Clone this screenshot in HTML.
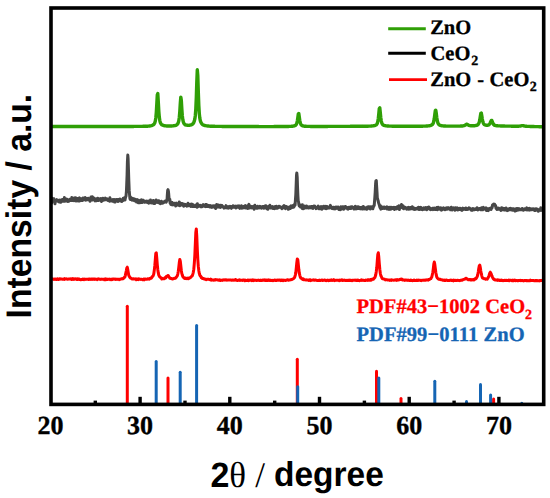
<!DOCTYPE html>
<html><head><meta charset="utf-8"><style>
html,body{margin:0;padding:0;background:#fff;}
svg{display:block;}
text{text-rendering:geometricPrecision;}
.tl{font-family:"Liberation Serif",serif;font-weight:bold;font-size:26px;fill:#000;stroke:#000;stroke-width:0.35px;}
.lg{font-family:"Liberation Serif",serif;font-weight:bold;font-size:20.5px;stroke-width:0.3px;}
.ax{font-family:"Liberation Sans",sans-serif;font-weight:bold;fill:#000;}
.sf{font-family:"Liberation Serif",serif;font-weight:normal;fill:#000;}
</style></head><body>
<svg width="550" height="498" viewBox="0 0 550 498">
<rect x="0" y="0" width="550" height="498" fill="#fff"/>
<line x1="127.3" y1="403.5" x2="127.3" y2="306.2" stroke="#ff0000" stroke-width="3.0" stroke-linecap="round"/>
<line x1="168.0" y1="403.5" x2="168.0" y2="378.0" stroke="#ff0000" stroke-width="3.0" stroke-linecap="round"/>
<line x1="297.3" y1="403.5" x2="297.3" y2="359.3" stroke="#ff0000" stroke-width="3.0" stroke-linecap="round"/>
<line x1="376.5" y1="403.5" x2="376.5" y2="371.3" stroke="#ff0000" stroke-width="3.0" stroke-linecap="round"/>
<line x1="401.0" y1="403.5" x2="401.0" y2="398.6" stroke="#ff0000" stroke-width="3.0" stroke-linecap="round"/>
<line x1="493.6" y1="403.5" x2="493.6" y2="398.9" stroke="#ff0000" stroke-width="3.0" stroke-linecap="round"/>
<line x1="156.2" y1="403.5" x2="156.2" y2="361.6" stroke="#1565b4" stroke-width="3.0" stroke-linecap="round"/>
<line x1="180.2" y1="403.5" x2="180.2" y2="372.2" stroke="#1565b4" stroke-width="3.0" stroke-linecap="round"/>
<line x1="196.6" y1="403.5" x2="196.6" y2="325.4" stroke="#1565b4" stroke-width="3.0" stroke-linecap="round"/>
<line x1="297.7" y1="403.5" x2="297.7" y2="386.8" stroke="#1565b4" stroke-width="3.0" stroke-linecap="round"/>
<line x1="378.8" y1="403.5" x2="378.8" y2="378.1" stroke="#1565b4" stroke-width="3.0" stroke-linecap="round"/>
<line x1="434.8" y1="403.5" x2="434.8" y2="381.3" stroke="#1565b4" stroke-width="3.0" stroke-linecap="round"/>
<line x1="466.5" y1="403.5" x2="466.5" y2="401.4" stroke="#1565b4" stroke-width="3.0" stroke-linecap="round"/>
<line x1="480.5" y1="403.5" x2="480.5" y2="384.5" stroke="#1565b4" stroke-width="3.0" stroke-linecap="round"/>
<line x1="490.6" y1="403.5" x2="490.6" y2="395.0" stroke="#1565b4" stroke-width="3.0" stroke-linecap="round"/>
<line x1="521.8" y1="403.5" x2="521.8" y2="403.3" stroke="#1565b4" stroke-width="3.0" stroke-linecap="round"/>
<g fill="none" stroke-linejoin="round" stroke-linecap="round">
<path d="M51.8 126.5 L52.3 126.5 L52.8 126.5 L53.3 126.5 L53.8 126.5 L54.3 126.5 L54.8 126.5 L55.3 126.5 L55.8 126.5 L56.3 126.5 L56.8 126.5 L57.3 126.5 L57.8 126.5 L58.3 126.5 L58.8 126.5 L59.3 126.5 L59.8 126.5 L60.3 126.5 L60.8 126.5 L61.3 126.5 L61.8 126.5 L62.3 126.5 L62.8 126.5 L63.3 126.5 L63.8 126.5 L64.3 126.5 L64.8 126.5 L65.3 126.5 L65.8 126.5 L66.3 126.5 L66.8 126.5 L67.3 126.5 L67.8 126.5 L68.3 126.5 L68.8 126.5 L69.3 126.5 L69.8 126.5 L70.3 126.5 L70.8 126.5 L71.3 126.5 L71.8 126.5 L72.3 126.5 L72.8 126.5 L73.3 126.5 L73.8 126.5 L74.3 126.5 L74.8 126.5 L75.3 126.5 L75.8 126.5 L76.3 126.5 L76.8 126.5 L77.3 126.5 L77.8 126.5 L78.3 126.5 L78.8 126.5 L79.3 126.5 L79.8 126.5 L80.3 126.5 L80.8 126.5 L81.3 126.5 L81.8 126.5 L82.3 126.5 L82.8 126.5 L83.3 126.5 L83.8 126.5 L84.3 126.5 L84.8 126.5 L85.3 126.5 L85.8 126.5 L86.3 126.5 L86.8 126.5 L87.3 126.5 L87.8 126.5 L88.3 126.5 L88.8 126.5 L89.3 126.5 L89.8 126.5 L90.3 126.5 L90.8 126.5 L91.3 126.5 L91.8 126.5 L92.3 126.5 L92.8 126.5 L93.3 126.5 L93.8 126.5 L94.3 126.5 L94.8 126.5 L95.3 126.5 L95.8 126.5 L96.3 126.5 L96.8 126.5 L97.3 126.5 L97.8 126.5 L98.3 126.5 L98.8 126.5 L99.3 126.5 L99.8 126.5 L100.3 126.5 L100.8 126.5 L101.3 126.5 L101.8 126.5 L102.3 126.5 L102.8 126.5 L103.3 126.5 L103.8 126.5 L104.3 126.5 L104.8 126.5 L105.3 126.5 L105.8 126.5 L106.3 126.5 L106.8 126.5 L107.3 126.5 L107.8 126.5 L108.3 126.5 L108.8 126.5 L109.3 126.5 L109.8 126.5 L110.3 126.5 L110.8 126.5 L111.3 126.5 L111.8 126.5 L112.3 126.5 L112.8 126.5 L113.3 126.5 L113.8 126.5 L114.3 126.5 L114.8 126.5 L115.3 126.5 L115.8 126.5 L116.3 126.5 L116.8 126.5 L117.3 126.5 L117.8 126.5 L118.3 126.5 L118.8 126.5 L119.3 126.5 L119.8 126.5 L120.3 126.5 L120.8 126.5 L121.3 126.5 L121.8 126.5 L122.3 126.5 L122.8 126.5 L123.3 126.5 L123.8 126.5 L124.3 126.5 L124.8 126.5 L125.3 126.5 L125.8 126.5 L126.3 126.5 L126.8 126.5 L127.3 126.5 L127.8 126.5 L128.3 126.5 L128.8 126.5 L129.3 126.5 L129.8 126.5 L130.3 126.5 L130.8 126.5 L131.3 126.5 L131.8 126.5 L132.3 126.5 L132.8 126.5 L133.3 126.5 L133.8 126.4 L134.3 126.4 L134.8 126.4 L135.3 126.4 L135.8 126.4 L136.3 126.4 L136.8 126.4 L137.3 126.4 L137.8 126.4 L138.3 126.4 L138.8 126.4 L139.3 126.4 L139.8 126.4 L140.3 126.4 L140.8 126.4 L141.3 126.4 L141.8 126.4 L142.3 126.4 L142.8 126.3 L143.3 126.3 L143.8 126.3 L144.3 126.3 L144.8 126.3 L145.3 126.3 L145.8 126.3 L146.3 126.2 L146.8 126.2 L147.3 126.2 L147.8 126.2 L148.3 126.1 L148.8 126.1 L149.3 126.0 L149.8 126.0 L150.3 125.9 L150.8 125.8 L151.3 125.7 L151.8 125.5 L152.3 125.4 L152.8 125.1 L153.3 124.8 L153.8 124.4 L154.3 123.7 L154.8 122.8 L155.3 121.1 L155.8 118.0 L156.3 112.6 L156.8 104.0 L157.3 94.8 L157.8 93.6 L158.3 102.0 L158.8 111.1 L159.3 117.1 L159.8 120.6 L160.3 122.5 L160.8 123.5 L161.3 124.2 L161.8 124.7 L162.3 125.0 L162.8 125.2 L163.3 125.4 L163.8 125.6 L164.3 125.7 L164.8 125.8 L165.3 125.8 L165.8 125.9 L166.3 125.9 L166.8 126.0 L167.3 126.0 L167.8 126.0 L168.3 126.0 L168.8 126.0 L169.3 126.0 L169.8 126.0 L170.3 126.0 L170.8 126.0 L171.3 126.0 L171.8 126.0 L172.3 125.9 L172.8 125.9 L173.3 125.8 L173.8 125.8 L174.3 125.7 L174.8 125.6 L175.3 125.5 L175.8 125.3 L176.3 125.1 L176.8 124.8 L177.3 124.3 L177.8 123.7 L178.3 122.6 L178.8 120.8 L179.3 117.4 L179.8 111.6 L180.3 103.4 L180.8 97.1 L181.3 100.2 L181.8 108.5 L182.3 115.4 L182.8 119.6 L183.3 121.9 L183.8 123.2 L184.3 124.0 L184.8 124.4 L185.3 124.8 L185.8 125.0 L186.3 125.1 L186.8 125.2 L187.3 125.3 L187.8 125.3 L188.3 125.4 L188.8 125.3 L189.3 125.3 L189.8 125.2 L190.3 125.1 L190.8 125.0 L191.3 124.8 L191.8 124.6 L192.3 124.3 L192.8 123.9 L193.3 123.3 L193.8 122.5 L194.3 121.2 L194.8 119.2 L195.3 115.7 L195.8 109.1 L196.3 97.9 L196.8 82.0 L197.3 69.8 L197.8 75.7 L198.3 91.9 L198.8 105.3 L199.3 113.6 L199.8 118.1 L200.3 120.6 L200.8 122.1 L201.3 123.1 L201.8 123.8 L202.3 124.3 L202.8 124.7 L203.3 125.0 L203.8 125.2 L204.3 125.4 L204.8 125.5 L205.3 125.6 L205.8 125.7 L206.3 125.8 L206.8 125.9 L207.3 125.9 L207.8 126.0 L208.3 126.0 L208.8 126.1 L209.3 126.1 L209.8 126.2 L210.3 126.2 L210.8 126.2 L211.3 126.2 L211.8 126.3 L212.3 126.3 L212.8 126.3 L213.3 126.3 L213.8 126.3 L214.3 126.3 L214.8 126.3 L215.3 126.4 L215.8 126.4 L216.3 126.4 L216.8 126.4 L217.3 126.4 L217.8 126.4 L218.3 126.4 L218.8 126.4 L219.3 126.4 L219.8 126.4 L220.3 126.4 L220.8 126.4 L221.3 126.4 L221.8 126.4 L222.3 126.5 L222.8 126.5 L223.3 126.5 L223.8 126.5 L224.3 126.5 L224.8 126.5 L225.3 126.5 L225.8 126.5 L226.3 126.5 L226.8 126.5 L227.3 126.5 L227.8 126.5 L228.3 126.5 L228.8 126.5 L229.3 126.5 L229.8 126.5 L230.3 126.5 L230.8 126.5 L231.3 126.5 L231.8 126.5 L232.3 126.5 L232.8 126.5 L233.3 126.5 L233.8 126.5 L234.3 126.5 L234.8 126.5 L235.3 126.5 L235.8 126.5 L236.3 126.5 L236.8 126.5 L237.3 126.5 L237.8 126.5 L238.3 126.5 L238.8 126.5 L239.3 126.5 L239.8 126.5 L240.3 126.5 L240.8 126.5 L241.3 126.5 L241.8 126.5 L242.3 126.5 L242.8 126.5 L243.3 126.5 L243.8 126.5 L244.3 126.5 L244.8 126.5 L245.3 126.5 L245.8 126.5 L246.3 126.5 L246.8 126.5 L247.3 126.5 L247.8 126.5 L248.3 126.5 L248.8 126.5 L249.3 126.5 L249.8 126.5 L250.3 126.5 L250.8 126.5 L251.3 126.5 L251.8 126.5 L252.3 126.5 L252.8 126.5 L253.3 126.5 L253.8 126.5 L254.3 126.5 L254.8 126.5 L255.3 126.5 L255.8 126.5 L256.3 126.5 L256.8 126.5 L257.3 126.5 L257.8 126.5 L258.3 126.5 L258.8 126.6 L259.3 126.6 L259.8 126.6 L260.3 126.6 L260.8 126.6 L261.3 126.6 L261.8 126.6 L262.3 126.6 L262.8 126.6 L263.3 126.6 L263.8 126.6 L264.3 126.6 L264.8 126.6 L265.3 126.6 L265.8 126.6 L266.3 126.6 L266.8 126.6 L267.3 126.6 L267.8 126.6 L268.3 126.6 L268.8 126.6 L269.3 126.6 L269.8 126.6 L270.3 126.6 L270.8 126.6 L271.3 126.6 L271.8 126.6 L272.3 126.6 L272.8 126.6 L273.3 126.6 L273.8 126.6 L274.3 126.5 L274.8 126.5 L275.3 126.5 L275.8 126.5 L276.3 126.5 L276.8 126.5 L277.3 126.5 L277.8 126.5 L278.3 126.5 L278.8 126.5 L279.3 126.5 L279.8 126.5 L280.3 126.5 L280.8 126.5 L281.3 126.5 L281.8 126.5 L282.3 126.5 L282.8 126.5 L283.3 126.5 L283.8 126.5 L284.3 126.5 L284.8 126.5 L285.3 126.5 L285.8 126.5 L286.3 126.5 L286.8 126.5 L287.3 126.5 L287.8 126.5 L288.3 126.5 L288.8 126.4 L289.3 126.4 L289.8 126.4 L290.3 126.4 L290.8 126.4 L291.3 126.3 L291.8 126.3 L292.3 126.3 L292.8 126.2 L293.3 126.1 L293.8 126.0 L294.3 125.9 L294.8 125.7 L295.3 125.5 L295.8 125.1 L296.3 124.4 L296.8 123.2 L297.3 121.1 L297.8 117.7 L298.3 114.0 L298.8 113.5 L299.3 116.9 L299.8 120.5 L300.3 122.9 L300.8 124.3 L301.3 125.0 L301.8 125.4 L302.3 125.7 L302.8 125.9 L303.3 126.0 L303.8 126.1 L304.3 126.2 L304.8 126.2 L305.3 126.3 L305.8 126.3 L306.3 126.3 L306.8 126.4 L307.3 126.4 L307.8 126.4 L308.3 126.4 L308.8 126.4 L309.3 126.4 L309.8 126.4 L310.3 126.4 L310.8 126.5 L311.3 126.5 L311.8 126.5 L312.3 126.5 L312.8 126.5 L313.3 126.5 L313.8 126.5 L314.3 126.5 L314.8 126.5 L315.3 126.5 L315.8 126.5 L316.3 126.5 L316.8 126.5 L317.3 126.5 L317.8 126.5 L318.3 126.5 L318.8 126.5 L319.3 126.5 L319.8 126.5 L320.3 126.5 L320.8 126.5 L321.3 126.5 L321.8 126.5 L322.3 126.5 L322.8 126.5 L323.3 126.5 L323.8 126.5 L324.3 126.5 L324.8 126.5 L325.3 126.5 L325.8 126.5 L326.3 126.5 L326.8 126.5 L327.3 126.5 L327.8 126.4 L328.3 126.4 L328.8 126.4 L329.3 126.4 L329.8 126.4 L330.3 126.4 L330.8 126.4 L331.3 126.4 L331.8 126.4 L332.3 126.4 L332.8 126.4 L333.3 126.4 L333.8 126.4 L334.3 126.4 L334.8 126.4 L335.3 126.4 L335.8 126.4 L336.3 126.4 L336.8 126.4 L337.3 126.4 L337.8 126.4 L338.3 126.4 L338.8 126.4 L339.3 126.4 L339.8 126.4 L340.3 126.4 L340.8 126.4 L341.3 126.4 L341.8 126.4 L342.3 126.4 L342.8 126.4 L343.3 126.4 L343.8 126.4 L344.3 126.4 L344.8 126.4 L345.3 126.4 L345.8 126.4 L346.3 126.4 L346.8 126.4 L347.3 126.4 L347.8 126.4 L348.3 126.4 L348.8 126.4 L349.3 126.4 L349.8 126.4 L350.3 126.3 L350.8 126.3 L351.3 126.3 L351.8 126.3 L352.3 126.3 L352.8 126.3 L353.3 126.3 L353.8 126.3 L354.3 126.3 L354.8 126.3 L355.3 126.3 L355.8 126.3 L356.3 126.3 L356.8 126.3 L357.3 126.3 L357.8 126.3 L358.3 126.3 L358.8 126.3 L359.3 126.3 L359.8 126.3 L360.3 126.3 L360.8 126.3 L361.3 126.3 L361.8 126.3 L362.3 126.3 L362.8 126.3 L363.3 126.2 L363.8 126.2 L364.3 126.2 L364.8 126.2 L365.3 126.2 L365.8 126.2 L366.3 126.2 L366.8 126.2 L367.3 126.2 L367.8 126.2 L368.3 126.2 L368.8 126.1 L369.3 126.1 L369.8 126.1 L370.3 126.1 L370.8 126.1 L371.3 126.0 L371.8 126.0 L372.3 125.9 L372.8 125.9 L373.3 125.8 L373.8 125.8 L374.3 125.7 L374.8 125.5 L375.3 125.4 L375.8 125.1 L376.3 124.8 L376.8 124.2 L377.3 123.3 L377.8 121.6 L378.3 118.5 L378.8 113.7 L379.3 108.5 L379.8 107.9 L380.3 112.6 L380.8 117.7 L381.3 121.1 L381.8 123.0 L382.3 124.1 L382.8 124.7 L383.3 125.0 L383.8 125.3 L384.3 125.5 L384.8 125.6 L385.3 125.7 L385.8 125.8 L386.3 125.9 L386.8 125.9 L387.3 126.0 L387.8 126.0 L388.3 126.0 L388.8 126.1 L389.3 126.1 L389.8 126.1 L390.3 126.1 L390.8 126.1 L391.3 126.1 L391.8 126.2 L392.3 126.2 L392.8 126.2 L393.3 126.2 L393.8 126.2 L394.3 126.2 L394.8 126.2 L395.3 126.2 L395.8 126.2 L396.3 126.2 L396.8 126.2 L397.3 126.2 L397.8 126.2 L398.3 126.2 L398.8 126.2 L399.3 126.2 L399.8 126.2 L400.3 126.2 L400.8 126.2 L401.3 126.2 L401.8 126.2 L402.3 126.2 L402.8 126.2 L403.3 126.2 L403.8 126.2 L404.3 126.2 L404.8 126.2 L405.3 126.2 L405.8 126.2 L406.3 126.2 L406.8 126.2 L407.3 126.2 L407.8 126.2 L408.3 126.2 L408.8 126.2 L409.3 126.2 L409.8 126.2 L410.3 126.2 L410.8 126.2 L411.3 126.2 L411.8 126.2 L412.3 126.2 L412.8 126.2 L413.3 126.2 L413.8 126.2 L414.3 126.2 L414.8 126.2 L415.3 126.2 L415.8 126.2 L416.3 126.2 L416.8 126.2 L417.3 126.2 L417.8 126.2 L418.3 126.2 L418.8 126.2 L419.3 126.2 L419.8 126.2 L420.3 126.2 L420.8 126.2 L421.3 126.2 L421.8 126.2 L422.3 126.2 L422.8 126.2 L423.3 126.1 L423.8 126.1 L424.3 126.1 L424.8 126.1 L425.3 126.1 L425.8 126.1 L426.3 126.0 L426.8 126.0 L427.3 126.0 L427.8 125.9 L428.3 125.9 L428.8 125.8 L429.3 125.8 L429.8 125.7 L430.3 125.6 L430.8 125.4 L431.3 125.2 L431.8 125.0 L432.3 124.6 L432.8 124.0 L433.3 123.0 L433.8 121.2 L434.3 118.4 L434.8 114.4 L435.3 110.6 L435.8 110.2 L436.3 113.6 L436.8 117.7 L437.3 120.7 L437.8 122.7 L438.3 123.8 L438.8 124.5 L439.3 124.9 L439.8 125.2 L440.3 125.4 L440.8 125.5 L441.3 125.7 L441.8 125.8 L442.3 125.8 L442.8 125.9 L443.3 125.9 L443.8 126.0 L444.3 126.0 L444.8 126.0 L445.3 126.0 L445.8 126.1 L446.3 126.1 L446.8 126.1 L447.3 126.1 L447.8 126.1 L448.3 126.1 L448.8 126.1 L449.3 126.1 L449.8 126.1 L450.3 126.1 L450.8 126.1 L451.3 126.1 L451.8 126.1 L452.3 126.1 L452.8 126.1 L453.3 126.1 L453.8 126.1 L454.3 126.1 L454.8 126.1 L455.3 126.1 L455.8 126.1 L456.3 126.1 L456.8 126.1 L457.3 126.1 L457.8 126.1 L458.3 126.1 L458.8 126.1 L459.3 126.1 L459.8 126.1 L460.3 126.1 L460.8 126.0 L461.3 126.0 L461.8 126.0 L462.3 126.0 L462.8 125.9 L463.3 125.8 L463.8 125.7 L464.3 125.6 L464.8 125.4 L465.3 125.1 L465.8 124.7 L466.3 124.4 L466.8 124.2 L467.3 124.3 L467.8 124.7 L468.3 125.0 L468.8 125.3 L469.3 125.5 L469.8 125.6 L470.3 125.7 L470.8 125.8 L471.3 125.8 L471.8 125.8 L472.3 125.8 L472.8 125.8 L473.3 125.8 L473.8 125.8 L474.3 125.7 L474.8 125.7 L475.3 125.6 L475.8 125.5 L476.3 125.4 L476.8 125.3 L477.3 125.0 L477.8 124.7 L478.3 124.2 L478.8 123.4 L479.3 122.0 L479.8 119.7 L480.3 116.5 L480.8 113.4 L481.3 113.0 L481.8 115.8 L482.3 119.1 L482.8 121.5 L483.3 123.1 L483.8 124.0 L484.3 124.5 L484.8 124.8 L485.3 125.0 L485.8 125.2 L486.3 125.3 L486.8 125.3 L487.3 125.3 L487.8 125.2 L488.3 125.1 L488.8 124.9 L489.3 124.4 L489.8 123.8 L490.3 122.7 L490.8 121.4 L491.3 120.4 L491.8 120.5 L492.3 121.7 L492.8 123.0 L493.3 124.0 L493.8 124.7 L494.3 125.1 L494.8 125.3 L495.3 125.5 L495.8 125.6 L496.3 125.7 L496.8 125.8 L497.3 125.8 L497.8 125.8 L498.3 125.9 L498.8 125.9 L499.3 125.9 L499.8 125.9 L500.3 125.9 L500.8 126.0 L501.3 126.0 L501.8 126.0 L502.3 126.0 L502.8 126.0 L503.3 126.0 L503.8 126.0 L504.3 126.0 L504.8 126.1 L505.3 126.1 L505.8 126.1 L506.3 126.1 L506.8 126.1 L507.3 126.1 L507.8 126.1 L508.3 126.1 L508.8 126.1 L509.3 126.1 L509.8 126.1 L510.3 126.1 L510.8 126.1 L511.3 126.2 L511.8 126.2 L512.3 126.2 L512.8 126.2 L513.3 126.2 L513.8 126.2 L514.3 126.2 L514.8 126.2 L515.3 126.2 L515.8 126.2 L516.3 126.2 L516.8 126.2 L517.3 126.2 L517.8 126.2 L518.3 126.2 L518.8 126.2 L519.3 126.1 L519.8 126.1 L520.3 126.0 L520.8 126.0 L521.3 125.8 L521.8 125.7 L522.3 125.6 L522.8 125.6 L523.3 125.7 L523.8 125.9 L524.3 126.0 L524.8 126.1 L525.3 126.2 L525.8 126.3 L526.3 126.3 L526.8 126.3 L527.3 126.4 L527.8 126.4 L528.3 126.4 L528.8 126.4 L529.3 126.4 L529.8 126.4 L530.3 126.5 L530.8 126.5 L531.3 126.5 L531.8 126.5 L532.3 126.5 L532.8 126.5 L533.3 126.5 L533.8 126.5 L534.3 126.6 L534.8 126.6 L535.3 126.6 L535.8 126.6 L536.3 126.6 L536.8 126.6 L537.3 126.6 L537.8 126.6 L538.3 126.6 L538.8 126.7 L539.3 126.7 L539.8 126.7 L540.3 126.7 L540.8 126.7 L541.3 126.7 L541.8 126.7 L542.3 126.7 L542.8 126.7" stroke="#2f9f06" stroke-width="3.4"/>
<path d="M51.8 202.7 L52.1 198.3 L52.5 201.1 L52.9 200.2 L53.2 200.3 L53.6 200.5 L53.9 198.8 L54.3 200.5 L54.6 199.8 L55.0 203.8 L55.3 200.9 L55.7 200.3 L56.0 200.3 L56.4 200.0 L56.7 199.6 L57.1 200.2 L57.4 201.0 L57.8 200.3 L58.1 201.4 L58.5 200.3 L58.8 200.5 L59.2 202.0 L59.5 201.0 L59.9 200.0 L60.2 200.3 L60.6 201.0 L60.9 202.3 L61.3 200.2 L61.6 200.2 L62.0 201.3 L62.3 199.5 L62.7 200.1 L63.0 201.2 L63.4 200.9 L63.7 200.4 L64.1 200.9 L64.4 197.6 L64.8 201.3 L65.1 199.4 L65.5 198.7 L65.8 200.5 L66.2 200.9 L66.5 199.8 L66.9 199.2 L67.2 200.2 L67.6 200.1 L67.9 201.5 L68.3 200.9 L68.6 200.3 L69.0 201.2 L69.3 199.9 L69.7 199.2 L70.0 200.6 L70.4 200.6 L70.7 199.8 L71.1 199.3 L71.4 200.2 L71.8 197.6 L72.1 200.6 L72.5 200.4 L72.8 198.4 L73.2 199.9 L73.5 199.0 L73.9 200.6 L74.2 197.9 L74.6 198.9 L74.9 200.4 L75.3 200.8 L75.6 197.7 L76.0 199.2 L76.3 200.0 L76.7 199.1 L77.0 201.1 L77.4 198.5 L77.7 199.9 L78.1 198.6 L78.4 200.9 L78.8 199.5 L79.1 199.2 L79.5 197.9 L79.8 201.0 L80.2 200.1 L80.5 200.1 L80.9 200.4 L81.2 199.7 L81.6 198.7 L81.9 198.6 L82.3 198.6 L82.6 200.6 L83.0 197.9 L83.3 198.7 L83.7 198.9 L84.0 199.4 L84.4 199.7 L84.7 198.0 L85.1 197.5 L85.4 199.1 L85.8 200.2 L86.1 199.7 L86.5 199.2 L86.8 198.7 L87.2 199.2 L87.5 198.7 L87.9 199.7 L88.2 198.2 L88.6 199.0 L88.9 198.8 L89.3 199.3 L89.6 199.0 L90.0 201.2 L90.3 200.2 L90.7 200.2 L91.0 196.9 L91.4 198.5 L91.7 198.3 L92.1 199.4 L92.4 196.8 L92.8 200.0 L93.1 199.9 L93.5 197.8 L93.8 198.1 L94.2 198.3 L94.5 199.1 L94.9 199.6 L95.2 200.9 L95.6 198.9 L95.9 199.8 L96.3 199.2 L96.6 200.7 L97.0 199.8 L97.3 200.4 L97.7 198.2 L98.0 199.0 L98.4 198.5 L98.7 200.6 L99.1 199.8 L99.4 199.0 L99.8 198.9 L100.1 199.7 L100.5 198.7 L100.8 198.5 L101.2 199.8 L101.5 201.6 L101.9 199.1 L102.2 198.9 L102.6 198.3 L102.9 198.2 L103.3 199.9 L103.6 200.2 L104.0 199.5 L104.3 199.8 L104.7 199.6 L105.0 199.7 L105.4 198.1 L105.7 199.1 L106.1 199.7 L106.4 198.9 L106.8 199.2 L107.1 198.9 L107.5 199.3 L107.8 200.4 L108.2 199.3 L108.5 199.5 L108.9 200.5 L109.2 200.3 L109.6 201.3 L109.9 197.8 L110.3 200.6 L110.6 199.3 L111.0 199.9 L111.3 200.6 L111.7 200.8 L112.0 200.8 L112.4 200.0 L112.7 201.3 L113.1 199.6 L113.4 199.8 L113.8 200.7 L114.1 199.4 L114.5 201.9 L114.8 200.9 L115.2 202.0 L115.5 200.0 L115.9 199.6 L116.2 200.2 L116.6 200.7 L116.9 199.5 L117.3 200.4 L117.6 200.0 L118.0 201.5 L118.3 199.5 L118.7 201.0 L119.0 199.5 L119.4 199.2 L119.7 199.4 L120.1 199.0 L120.4 200.2 L120.8 201.0 L121.1 200.2 L121.5 200.6 L121.8 201.5 L122.2 200.2 L122.5 200.1 L122.9 199.6 L123.2 198.3 L123.6 200.4 L123.9 198.0 L124.3 200.0 L124.6 199.2 L125.0 200.0 L125.3 198.4 L125.7 196.9 L126.0 196.2 L126.4 191.7 L126.7 185.0 L127.1 174.5 L127.4 162.2 L127.8 155.1 L128.1 158.7 L128.5 170.7 L128.8 180.5 L129.2 190.4 L129.5 194.0 L129.9 198.3 L130.2 199.5 L130.6 197.1 L130.9 199.3 L131.3 199.3 L131.6 198.7 L132.0 200.2 L132.3 199.4 L132.7 198.3 L133.0 199.8 L133.4 199.9 L133.7 200.2 L134.1 199.0 L134.4 200.8 L134.8 200.9 L135.1 199.2 L135.5 199.7 L135.8 200.3 L136.2 199.9 L136.5 202.0 L136.9 200.7 L137.2 199.6 L137.6 199.8 L137.9 200.5 L138.3 202.7 L138.6 200.5 L139.0 200.8 L139.3 201.2 L139.7 200.7 L140.0 202.8 L140.4 200.3 L140.7 201.5 L141.1 201.0 L141.4 201.5 L141.8 199.9 L142.1 202.6 L142.5 200.9 L142.8 201.1 L143.2 200.2 L143.5 200.4 L143.9 201.6 L144.2 202.0 L144.6 201.8 L144.9 202.3 L145.3 201.9 L145.6 201.3 L146.0 202.0 L146.3 201.8 L146.7 201.2 L147.0 202.0 L147.4 202.5 L147.7 201.6 L148.1 201.1 L148.4 202.1 L148.8 203.2 L149.1 201.3 L149.5 201.5 L149.8 201.5 L150.2 202.7 L150.5 200.0 L150.9 202.0 L151.2 202.8 L151.6 201.0 L151.9 203.1 L152.3 202.2 L152.6 201.3 L153.0 202.0 L153.3 200.5 L153.7 201.4 L154.0 203.5 L154.4 201.1 L154.7 203.6 L155.1 201.9 L155.4 202.9 L155.8 202.1 L156.1 200.1 L156.5 201.6 L156.8 202.3 L157.2 201.1 L157.5 201.0 L157.9 202.5 L158.2 201.6 L158.6 200.7 L158.9 201.6 L159.3 203.0 L159.6 201.9 L160.0 203.1 L160.3 203.7 L160.7 202.4 L161.0 201.4 L161.4 201.3 L161.7 202.4 L162.1 203.3 L162.4 202.8 L162.8 203.0 L163.1 202.2 L163.5 202.8 L163.8 202.2 L164.2 202.3 L164.5 201.4 L164.9 201.1 L165.2 202.0 L165.6 201.4 L165.9 201.2 L166.3 202.1 L166.6 200.2 L167.0 200.5 L167.3 195.3 L167.7 190.2 L168.0 189.7 L168.4 191.1 L168.7 194.0 L169.1 199.1 L169.4 199.9 L169.8 199.2 L170.1 203.2 L170.5 202.3 L170.8 204.4 L171.2 202.6 L171.5 202.3 L171.9 204.8 L172.2 202.5 L172.6 203.7 L172.9 204.9 L173.3 203.8 L173.6 203.6 L174.0 203.9 L174.3 204.6 L174.7 203.2 L175.0 204.4 L175.4 204.5 L175.7 206.0 L176.1 203.7 L176.4 203.2 L176.8 204.7 L177.1 203.8 L177.5 204.4 L177.8 204.3 L178.2 205.2 L178.5 203.6 L178.9 204.2 L179.2 202.0 L179.6 203.5 L179.9 205.7 L180.3 203.8 L180.6 203.8 L181.0 203.3 L181.3 205.0 L181.7 204.6 L182.0 203.5 L182.4 205.1 L182.7 204.8 L183.1 205.2 L183.4 204.0 L183.8 206.2 L184.1 205.0 L184.5 204.6 L184.8 204.3 L185.2 204.5 L185.5 205.5 L185.9 204.6 L186.2 205.8 L186.6 205.4 L186.9 206.1 L187.3 205.6 L187.6 204.9 L188.0 203.3 L188.3 205.2 L188.7 205.7 L189.0 205.2 L189.4 205.5 L189.7 204.7 L190.1 204.8 L190.4 204.3 L190.8 206.4 L191.1 205.3 L191.5 204.8 L191.8 204.1 L192.2 205.1 L192.5 206.6 L192.9 205.7 L193.2 204.7 L193.6 206.6 L193.9 206.6 L194.3 206.3 L194.6 206.1 L195.0 206.5 L195.3 206.0 L195.7 206.2 L196.0 204.9 L196.4 206.8 L196.7 205.8 L197.1 207.3 L197.4 203.8 L197.8 206.2 L198.1 206.5 L198.5 205.3 L198.8 206.0 L199.2 206.3 L199.5 206.2 L199.9 205.2 L200.2 205.6 L200.6 206.6 L200.9 206.8 L201.3 205.8 L201.6 205.8 L202.0 205.9 L202.3 206.7 L202.7 204.9 L203.0 204.7 L203.4 205.9 L203.7 204.9 L204.1 205.3 L204.4 205.9 L204.8 206.3 L205.1 205.0 L205.5 206.6 L205.8 204.4 L206.2 206.4 L206.5 204.6 L206.9 204.9 L207.2 206.5 L207.6 205.6 L207.9 205.3 L208.3 205.6 L208.6 206.4 L209.0 206.0 L209.3 206.0 L209.7 207.0 L210.0 205.5 L210.4 205.7 L210.7 205.7 L211.1 207.1 L211.4 207.0 L211.8 207.3 L212.1 206.1 L212.5 206.1 L212.8 206.9 L213.2 205.9 L213.5 206.9 L213.9 206.9 L214.2 205.7 L214.6 206.2 L214.9 206.2 L215.3 207.8 L215.6 208.5 L216.0 206.2 L216.3 206.4 L216.7 204.4 L217.0 206.6 L217.4 206.4 L217.7 205.5 L218.1 207.1 L218.4 205.1 L218.8 206.3 L219.1 206.6 L219.5 205.4 L219.8 207.2 L220.2 207.4 L220.5 205.3 L220.9 205.3 L221.2 207.0 L221.6 206.5 L221.9 205.5 L222.3 206.3 L222.6 206.5 L223.0 206.4 L223.3 207.3 L223.7 206.9 L224.0 208.1 L224.4 207.8 L224.7 207.2 L225.1 207.5 L225.4 207.7 L225.8 207.2 L226.1 205.6 L226.5 207.4 L226.8 206.7 L227.2 208.0 L227.5 206.7 L227.9 207.1 L228.2 206.9 L228.6 208.1 L228.9 206.8 L229.3 206.5 L229.6 206.9 L230.0 206.3 L230.3 206.8 L230.7 206.7 L231.0 206.9 L231.4 208.4 L231.7 206.4 L232.1 206.8 L232.4 206.6 L232.8 207.3 L233.1 205.8 L233.5 206.2 L233.8 206.7 L234.2 207.2 L234.5 206.7 L234.9 206.4 L235.2 206.1 L235.6 207.2 L235.9 208.0 L236.3 207.1 L236.6 207.0 L237.0 207.2 L237.3 206.0 L237.7 206.6 L238.0 206.6 L238.4 207.1 L238.7 206.8 L239.1 205.9 L239.4 207.8 L239.8 208.3 L240.1 206.7 L240.5 207.2 L240.8 207.1 L241.2 207.6 L241.5 205.7 L241.9 208.3 L242.2 206.5 L242.6 208.0 L242.9 207.0 L243.3 206.6 L243.6 206.8 L244.0 207.7 L244.3 206.3 L244.7 206.7 L245.0 206.6 L245.4 205.6 L245.7 208.1 L246.1 207.5 L246.4 207.0 L246.8 208.0 L247.1 206.2 L247.5 207.0 L247.8 208.5 L248.2 207.9 L248.5 205.2 L248.9 204.3 L249.2 206.2 L249.6 208.0 L249.9 206.7 L250.3 206.9 L250.6 207.6 L251.0 206.4 L251.3 207.3 L251.7 207.8 L252.0 207.5 L252.4 207.4 L252.7 206.6 L253.1 207.6 L253.4 206.8 L253.8 208.2 L254.1 209.3 L254.5 206.5 L254.8 205.3 L255.2 206.8 L255.5 207.5 L255.9 208.0 L256.2 208.1 L256.6 206.5 L256.9 206.5 L257.3 208.2 L257.6 206.3 L258.0 208.1 L258.3 207.0 L258.7 207.8 L259.0 207.8 L259.4 207.8 L259.7 207.9 L260.1 206.4 L260.4 207.4 L260.8 207.2 L261.1 207.5 L261.5 208.2 L261.8 207.0 L262.2 206.6 L262.5 206.6 L262.9 207.0 L263.2 207.8 L263.6 206.5 L263.9 208.2 L264.3 207.5 L264.6 207.0 L265.0 206.1 L265.3 207.4 L265.7 207.8 L266.0 205.8 L266.4 208.2 L266.7 208.6 L267.1 207.5 L267.4 207.7 L267.8 209.3 L268.1 208.3 L268.5 206.5 L268.8 207.3 L269.2 207.1 L269.5 207.2 L269.9 205.3 L270.2 207.9 L270.6 206.8 L270.9 207.4 L271.3 207.2 L271.6 208.0 L272.0 207.1 L272.3 206.6 L272.7 207.7 L273.0 208.5 L273.4 207.0 L273.7 208.4 L274.1 207.5 L274.4 206.9 L274.8 208.6 L275.1 206.7 L275.5 208.2 L275.8 206.9 L276.2 207.7 L276.5 206.3 L276.9 206.7 L277.2 208.2 L277.6 207.5 L277.9 207.4 L278.3 207.0 L278.6 207.7 L279.0 206.2 L279.3 206.4 L279.7 207.2 L280.0 206.7 L280.4 206.8 L280.7 207.3 L281.1 207.2 L281.4 207.2 L281.8 208.7 L282.1 208.2 L282.5 208.3 L282.8 207.3 L283.2 206.9 L283.5 206.1 L283.9 207.0 L284.2 205.6 L284.6 206.8 L284.9 207.9 L285.3 208.6 L285.6 208.1 L286.0 206.6 L286.3 207.7 L286.7 206.6 L287.0 207.9 L287.4 207.2 L287.7 208.0 L288.1 209.3 L288.4 208.0 L288.8 209.1 L289.1 207.3 L289.5 206.9 L289.8 208.2 L290.2 208.5 L290.5 206.7 L290.9 207.1 L291.2 205.9 L291.6 206.8 L291.9 207.7 L292.3 206.8 L292.6 206.4 L293.0 205.6 L293.3 206.9 L293.7 207.1 L294.0 206.7 L294.4 206.0 L294.7 204.1 L295.1 205.1 L295.4 200.4 L295.8 194.6 L296.1 186.8 L296.5 175.5 L296.8 172.9 L297.2 177.1 L297.5 186.5 L297.9 195.8 L298.2 200.9 L298.6 202.1 L298.9 204.8 L299.3 206.0 L299.6 206.3 L300.0 205.4 L300.3 205.2 L300.7 207.1 L301.0 207.1 L301.4 206.8 L301.7 205.5 L302.1 208.4 L302.4 204.7 L302.8 206.8 L303.1 208.8 L303.5 207.0 L303.8 207.3 L304.2 206.2 L304.5 208.2 L304.9 206.1 L305.2 207.4 L305.6 207.3 L305.9 206.3 L306.3 207.9 L306.6 206.1 L307.0 206.7 L307.3 207.2 L307.7 206.9 L308.0 207.6 L308.4 208.0 L308.7 207.0 L309.1 206.8 L309.4 206.8 L309.8 206.9 L310.1 207.9 L310.5 207.1 L310.8 207.6 L311.2 207.2 L311.5 206.6 L311.9 208.0 L312.2 206.5 L312.6 207.3 L312.9 208.5 L313.3 206.5 L313.6 207.3 L314.0 206.1 L314.3 207.0 L314.7 206.2 L315.0 207.1 L315.4 207.0 L315.7 207.5 L316.1 208.7 L316.4 207.6 L316.8 208.0 L317.1 207.4 L317.5 207.3 L317.8 206.8 L318.2 206.0 L318.5 207.5 L318.9 208.8 L319.2 207.9 L319.6 207.1 L319.9 208.8 L320.3 207.2 L320.6 207.0 L321.0 206.6 L321.3 206.8 L321.7 207.4 L322.0 209.2 L322.4 207.4 L322.7 206.8 L323.1 207.1 L323.4 207.4 L323.8 206.2 L324.1 207.7 L324.5 208.2 L324.8 207.9 L325.2 208.1 L325.5 206.6 L325.9 206.3 L326.2 208.7 L326.6 208.5 L326.9 206.4 L327.3 207.9 L327.6 207.7 L328.0 208.1 L328.3 207.9 L328.7 207.3 L329.0 207.9 L329.4 207.9 L329.7 207.7 L330.1 206.3 L330.4 205.4 L330.8 207.1 L331.1 206.5 L331.5 208.0 L331.8 208.4 L332.2 208.0 L332.5 207.5 L332.9 207.9 L333.2 208.8 L333.6 207.3 L333.9 208.6 L334.3 208.4 L334.6 208.1 L335.0 209.0 L335.3 207.3 L335.7 208.6 L336.0 207.2 L336.4 207.3 L336.7 207.1 L337.1 208.3 L337.4 207.2 L337.8 208.0 L338.1 207.0 L338.5 208.8 L338.8 209.4 L339.2 208.1 L339.5 209.3 L339.9 208.4 L340.2 209.7 L340.6 208.1 L340.9 206.7 L341.3 209.2 L341.6 207.9 L342.0 207.2 L342.3 207.5 L342.7 206.7 L343.0 207.9 L343.4 207.1 L343.7 209.2 L344.1 208.5 L344.4 206.7 L344.8 206.8 L345.1 207.5 L345.5 206.5 L345.8 207.9 L346.2 207.9 L346.5 207.4 L346.9 207.5 L347.2 208.4 L347.6 209.1 L347.9 209.2 L348.3 208.0 L348.6 208.7 L349.0 207.4 L349.3 208.3 L349.7 207.2 L350.0 208.6 L350.4 207.0 L350.7 207.2 L351.1 208.0 L351.4 208.4 L351.8 206.8 L352.1 207.6 L352.5 208.1 L352.8 208.2 L353.2 207.3 L353.5 208.0 L353.9 207.8 L354.2 209.1 L354.6 208.4 L354.9 206.9 L355.3 206.2 L355.6 208.0 L356.0 208.9 L356.3 208.1 L356.7 208.7 L357.0 207.6 L357.4 206.9 L357.7 208.5 L358.1 208.0 L358.4 208.5 L358.8 206.9 L359.1 208.1 L359.5 207.5 L359.8 208.6 L360.2 207.5 L360.5 207.5 L360.9 207.5 L361.2 208.9 L361.6 208.0 L361.9 207.3 L362.3 207.1 L362.6 207.1 L363.0 209.1 L363.3 206.5 L363.7 207.3 L364.0 208.4 L364.4 208.8 L364.7 207.8 L365.1 208.5 L365.4 208.5 L365.8 208.7 L366.1 207.9 L366.5 209.2 L366.8 208.0 L367.2 209.1 L367.5 207.0 L367.9 208.6 L368.2 206.9 L368.6 206.7 L368.9 208.2 L369.3 207.1 L369.6 208.1 L370.0 206.9 L370.3 209.0 L370.7 207.7 L371.0 206.8 L371.4 207.7 L371.7 208.2 L372.1 206.8 L372.4 207.7 L372.8 208.8 L373.1 207.7 L373.5 206.7 L373.8 205.8 L374.2 205.7 L374.5 201.9 L374.9 196.6 L375.2 192.0 L375.6 184.0 L375.9 180.8 L376.3 180.6 L376.6 185.8 L377.0 192.1 L377.3 197.9 L377.7 199.1 L378.0 200.5 L378.4 201.9 L378.7 203.2 L379.1 204.3 L379.4 205.3 L379.8 207.0 L380.1 207.9 L380.5 205.7 L380.8 209.2 L381.2 207.5 L381.5 208.5 L381.9 207.0 L382.2 207.9 L382.6 207.9 L382.9 207.8 L383.3 208.4 L383.6 208.3 L384.0 207.0 L384.3 207.7 L384.7 208.4 L385.0 208.4 L385.4 207.6 L385.7 207.7 L386.1 207.8 L386.4 207.1 L386.8 206.9 L387.1 209.1 L387.5 207.6 L387.8 208.0 L388.2 207.4 L388.5 209.0 L388.9 209.3 L389.2 207.8 L389.6 208.4 L389.9 207.4 L390.3 209.3 L390.6 208.7 L391.0 207.3 L391.3 209.0 L391.7 208.3 L392.0 208.3 L392.4 208.3 L392.7 207.5 L393.1 207.6 L393.4 208.5 L393.8 208.0 L394.1 207.3 L394.5 209.6 L394.8 207.9 L395.2 207.6 L395.5 207.5 L395.9 208.6 L396.2 208.8 L396.6 208.2 L396.9 208.7 L397.3 206.8 L397.6 207.6 L398.0 207.4 L398.3 207.7 L398.7 207.9 L399.0 205.8 L399.4 209.5 L399.7 206.2 L400.1 206.9 L400.4 207.2 L400.8 207.1 L401.1 206.7 L401.5 204.4 L401.8 206.0 L402.2 207.7 L402.5 206.6 L402.9 206.7 L403.2 205.9 L403.6 208.8 L403.9 208.4 L404.3 207.4 L404.6 208.0 L405.0 208.1 L405.3 207.3 L405.7 208.0 L406.0 208.4 L406.4 208.7 L406.7 209.2 L407.1 208.3 L407.4 207.9 L407.8 208.6 L408.1 207.8 L408.5 207.4 L408.8 209.2 L409.2 208.1 L409.5 208.5 L409.9 208.9 L410.2 207.5 L410.6 208.9 L410.9 208.7 L411.3 208.3 L411.6 208.7 L412.0 207.8 L412.3 206.7 L412.7 208.2 L413.0 207.7 L413.4 209.1 L413.7 208.7 L414.1 208.1 L414.4 208.5 L414.8 209.5 L415.1 209.4 L415.5 208.8 L415.8 208.8 L416.2 208.3 L416.5 208.4 L416.9 209.0 L417.2 208.4 L417.6 208.8 L417.9 207.7 L418.3 207.3 L418.6 207.3 L419.0 208.2 L419.3 209.6 L419.7 209.5 L420.0 207.8 L420.4 207.4 L420.7 209.2 L421.1 209.0 L421.4 207.6 L421.8 209.4 L422.1 208.7 L422.5 209.6 L422.8 208.9 L423.2 209.3 L423.5 208.9 L423.9 207.9 L424.2 208.5 L424.6 208.1 L424.9 209.3 L425.3 207.9 L425.6 207.5 L426.0 209.2 L426.3 209.5 L426.7 209.7 L427.0 209.5 L427.4 207.5 L427.7 208.1 L428.1 208.2 L428.4 208.6 L428.8 207.0 L429.1 208.7 L429.5 208.9 L429.8 207.9 L430.2 208.8 L430.5 209.6 L430.9 208.7 L431.2 209.5 L431.6 209.4 L431.9 209.0 L432.3 209.0 L432.6 208.4 L433.0 209.6 L433.3 208.3 L433.7 208.2 L434.0 209.2 L434.4 208.1 L434.7 209.0 L435.1 209.5 L435.4 208.8 L435.8 208.8 L436.1 209.4 L436.5 209.3 L436.8 207.6 L437.2 207.7 L437.5 209.7 L437.9 209.0 L438.2 207.2 L438.6 207.7 L438.9 208.7 L439.3 208.0 L439.6 209.1 L440.0 208.8 L440.3 209.1 L440.7 207.9 L441.0 209.2 L441.4 210.2 L441.7 208.2 L442.1 209.7 L442.4 209.5 L442.8 209.2 L443.1 208.7 L443.5 207.9 L443.8 208.1 L444.2 209.3 L444.5 209.5 L444.9 209.7 L445.2 209.5 L445.6 209.5 L445.9 208.5 L446.3 207.9 L446.6 208.9 L447.0 209.2 L447.3 208.9 L447.7 207.7 L448.0 208.4 L448.4 207.7 L448.7 208.9 L449.1 208.0 L449.4 208.7 L449.8 209.1 L450.1 208.9 L450.5 209.8 L450.8 208.0 L451.2 207.2 L451.5 209.5 L451.9 209.9 L452.2 209.9 L452.6 209.0 L452.9 209.2 L453.3 208.9 L453.6 207.9 L454.0 208.4 L454.3 209.2 L454.7 208.4 L455.0 210.3 L455.4 207.7 L455.7 208.5 L456.1 209.7 L456.4 208.4 L456.8 208.0 L457.1 207.8 L457.5 208.3 L457.8 210.0 L458.2 209.2 L458.5 209.3 L458.9 208.5 L459.2 209.5 L459.6 209.0 L459.9 208.2 L460.3 208.5 L460.6 209.0 L461.0 209.8 L461.3 208.8 L461.7 209.3 L462.0 210.4 L462.4 208.3 L462.7 208.0 L463.1 209.6 L463.4 209.2 L463.8 208.8 L464.1 209.1 L464.5 208.7 L464.8 209.3 L465.2 208.7 L465.5 209.5 L465.9 208.0 L466.2 208.3 L466.6 209.0 L466.9 208.6 L467.3 209.4 L467.6 208.9 L468.0 208.5 L468.3 209.1 L468.7 208.5 L469.0 207.8 L469.4 208.1 L469.7 208.3 L470.1 208.6 L470.4 209.0 L470.8 209.6 L471.1 209.4 L471.5 210.3 L471.8 209.9 L472.2 208.8 L472.5 210.2 L472.9 209.8 L473.2 208.6 L473.6 209.2 L473.9 209.8 L474.3 209.1 L474.6 209.7 L475.0 209.3 L475.3 209.5 L475.7 208.7 L476.0 209.3 L476.4 208.7 L476.7 209.5 L477.1 207.7 L477.4 209.2 L477.8 209.9 L478.1 209.4 L478.5 209.0 L478.8 209.4 L479.2 208.4 L479.5 208.4 L479.9 208.7 L480.2 208.9 L480.6 209.7 L480.9 208.3 L481.3 209.7 L481.6 207.8 L482.0 208.4 L482.3 209.0 L482.7 209.8 L483.0 208.5 L483.4 207.4 L483.7 209.3 L484.1 209.0 L484.4 208.2 L484.8 208.2 L485.1 208.5 L485.5 209.0 L485.8 209.5 L486.2 207.9 L486.5 210.6 L486.9 208.9 L487.2 208.7 L487.6 209.4 L487.9 209.0 L488.3 210.6 L488.6 209.7 L489.0 208.6 L489.3 208.5 L489.7 208.4 L490.0 208.5 L490.4 209.1 L490.7 208.0 L491.1 209.5 L491.4 208.0 L491.8 207.5 L492.1 207.8 L492.5 205.0 L492.8 205.0 L493.2 205.3 L493.5 204.3 L493.9 204.0 L494.2 204.4 L494.6 204.3 L494.9 205.3 L495.3 205.2 L495.6 205.6 L496.0 208.4 L496.3 207.3 L496.7 207.7 L497.0 209.5 L497.4 209.4 L497.7 208.4 L498.1 208.4 L498.4 208.8 L498.8 208.2 L499.1 209.3 L499.5 209.1 L499.8 209.1 L500.2 209.5 L500.5 209.5 L500.9 210.4 L501.2 210.1 L501.6 207.8 L501.9 209.7 L502.3 208.3 L502.6 208.0 L503.0 209.6 L503.3 208.6 L503.7 208.9 L504.0 209.9 L504.4 208.6 L504.7 208.5 L505.1 209.4 L505.4 210.0 L505.8 209.5 L506.1 208.0 L506.5 208.7 L506.8 209.1 L507.2 210.6 L507.5 209.8 L507.9 209.8 L508.2 210.1 L508.6 209.0 L508.9 209.5 L509.3 209.6 L509.6 208.5 L510.0 209.2 L510.3 209.6 L510.7 208.4 L511.0 209.8 L511.4 209.8 L511.7 210.0 L512.1 208.7 L512.4 209.3 L512.8 210.3 L513.1 209.8 L513.5 208.7 L513.8 209.4 L514.2 210.3 L514.5 209.2 L514.9 209.6 L515.2 211.1 L515.6 209.3 L515.9 209.2 L516.3 208.6 L516.6 208.8 L517.0 210.4 L517.3 209.2 L517.7 208.5 L518.0 208.6 L518.4 209.3 L518.7 209.9 L519.1 208.8 L519.4 209.8 L519.8 209.0 L520.1 209.6 L520.5 209.7 L520.8 209.8 L521.2 209.0 L521.5 209.2 L521.9 209.7 L522.2 208.4 L522.6 209.5 L522.9 209.7 L523.3 210.1 L523.6 209.3 L524.0 209.2 L524.3 209.5 L524.7 208.8 L525.0 209.2 L525.4 209.7 L525.7 209.6 L526.1 208.6 L526.4 209.2 L526.8 207.9 L527.1 210.0 L527.5 209.0 L527.8 209.6 L528.2 208.6 L528.5 209.3 L528.9 209.7 L529.2 210.1 L529.6 208.4 L529.9 210.0 L530.3 209.3 L530.6 208.9 L531.0 209.8 L531.3 209.2 L531.7 209.2 L532.0 208.9 L532.4 209.6 L532.7 209.5 L533.1 209.3 L533.4 208.8 L533.8 209.1 L534.1 209.7 L534.5 210.4 L534.8 209.4 L535.2 210.5 L535.5 209.5 L535.9 208.7 L536.2 209.9 L536.6 208.8 L536.9 209.8 L537.3 210.3 L537.6 209.3 L538.0 209.4 L538.3 211.3 L538.7 209.7 L539.0 209.7 L539.4 210.1 L539.7 209.5 L540.1 209.5 L540.4 209.8 L540.8 207.8 L541.1 210.5 L541.5 208.8 L541.8 208.8 L542.2 209.9 L542.5 209.6 L542.9 208.7" stroke="#474747" stroke-width="3.0"/>
<path d="M51.8 278.9 L52.3 278.8 L52.8 279.0 L53.3 279.2 L53.8 279.4 L54.3 279.1 L54.8 279.0 L55.3 278.9 L55.8 279.3 L56.3 279.5 L56.8 279.2 L57.3 278.8 L57.8 278.9 L58.3 279.5 L58.8 279.2 L59.3 278.7 L59.8 279.1 L60.3 278.8 L60.8 279.0 L61.3 279.0 L61.8 279.0 L62.3 279.3 L62.8 279.1 L63.3 279.0 L63.8 279.2 L64.3 279.4 L64.8 278.7 L65.3 279.1 L65.8 278.9 L66.3 279.1 L66.8 278.8 L67.3 279.2 L67.8 279.2 L68.3 279.1 L68.8 278.9 L69.3 279.1 L69.8 278.9 L70.3 278.8 L70.8 279.2 L71.3 278.9 L71.8 279.5 L72.3 279.4 L72.8 278.7 L73.3 279.3 L73.8 278.9 L74.3 279.2 L74.8 279.2 L75.3 278.7 L75.8 279.1 L76.3 279.1 L76.8 279.4 L77.3 278.9 L77.8 279.4 L78.3 278.9 L78.8 279.1 L79.3 279.0 L79.8 279.6 L80.3 279.4 L80.8 279.8 L81.3 279.4 L81.8 279.4 L82.3 279.4 L82.8 279.1 L83.3 279.2 L83.8 279.6 L84.3 279.1 L84.8 279.3 L85.3 279.2 L85.8 279.4 L86.3 279.2 L86.8 279.2 L87.3 279.3 L87.8 279.3 L88.3 279.0 L88.8 279.5 L89.3 278.9 L89.8 279.0 L90.3 279.0 L90.8 279.5 L91.3 279.2 L91.8 279.0 L92.3 279.0 L92.8 279.4 L93.3 279.0 L93.8 279.0 L94.3 279.4 L94.8 279.0 L95.3 279.2 L95.8 279.3 L96.3 279.2 L96.8 279.3 L97.3 279.6 L97.8 279.2 L98.3 279.0 L98.8 278.8 L99.3 279.2 L99.8 279.2 L100.3 279.4 L100.8 279.2 L101.3 279.2 L101.8 279.1 L102.3 279.2 L102.8 279.3 L103.3 279.2 L103.8 279.3 L104.3 279.8 L104.8 279.4 L105.3 278.9 L105.8 279.7 L106.3 279.4 L106.8 279.1 L107.3 279.5 L107.8 279.3 L108.3 279.2 L108.8 279.2 L109.3 279.1 L109.8 279.3 L110.3 279.6 L110.8 279.2 L111.3 279.4 L111.8 279.7 L112.3 279.0 L112.8 279.4 L113.3 279.2 L113.8 279.0 L114.3 279.0 L114.8 279.3 L115.3 279.4 L115.8 279.1 L116.3 279.3 L116.8 279.4 L117.3 279.3 L117.8 279.4 L118.3 279.3 L118.8 279.3 L119.3 279.6 L119.8 279.2 L120.3 279.1 L120.8 279.2 L121.3 278.7 L121.8 278.8 L122.3 278.9 L122.8 278.7 L123.3 278.7 L123.8 278.0 L124.3 277.2 L124.8 277.2 L125.3 275.6 L125.8 273.0 L126.3 270.8 L126.8 268.0 L127.3 267.2 L127.8 269.8 L128.3 272.7 L128.8 275.4 L129.3 276.3 L129.8 277.3 L130.3 277.9 L130.8 278.2 L131.3 278.3 L131.8 278.8 L132.3 279.1 L132.8 279.1 L133.3 278.8 L133.8 278.8 L134.3 279.1 L134.8 279.0 L135.3 279.0 L135.8 278.8 L136.3 279.7 L136.8 279.4 L137.3 279.0 L137.8 279.4 L138.3 279.6 L138.8 278.7 L139.3 279.1 L139.8 279.2 L140.3 279.4 L140.8 279.2 L141.3 279.2 L141.8 279.2 L142.3 279.7 L142.8 279.7 L143.3 279.1 L143.8 279.0 L144.3 279.8 L144.8 278.9 L145.3 279.0 L145.8 279.1 L146.3 279.2 L146.8 279.3 L147.3 279.1 L147.8 278.7 L148.3 279.0 L148.8 278.8 L149.3 279.1 L149.8 278.6 L150.3 278.1 L150.8 278.0 L151.3 278.3 L151.8 277.5 L152.3 276.6 L152.8 276.3 L153.3 275.3 L153.8 273.7 L154.3 270.1 L154.8 265.7 L155.3 259.5 L155.8 253.3 L156.3 252.8 L156.8 258.4 L157.3 264.8 L157.8 269.7 L158.3 272.9 L158.8 275.2 L159.3 276.1 L159.8 276.9 L160.3 277.2 L160.8 277.8 L161.3 278.0 L161.8 278.9 L162.3 278.3 L162.8 278.7 L163.3 278.8 L163.8 278.5 L164.3 278.7 L164.8 277.8 L165.3 278.1 L165.8 277.9 L166.3 276.6 L166.8 276.1 L167.3 276.0 L167.8 275.5 L168.3 275.7 L168.8 276.7 L169.3 277.3 L169.8 278.1 L170.3 278.4 L170.8 278.5 L171.3 278.5 L171.8 278.7 L172.3 279.0 L172.8 278.8 L173.3 278.8 L173.8 278.6 L174.3 278.2 L174.8 278.2 L175.3 278.3 L175.8 277.9 L176.3 277.3 L176.8 276.5 L177.3 275.9 L177.8 274.1 L178.3 271.3 L178.8 267.3 L179.3 262.6 L179.8 259.4 L180.3 261.1 L180.8 265.7 L181.3 270.2 L181.8 273.4 L182.3 275.1 L182.8 276.4 L183.3 277.3 L183.8 277.6 L184.3 278.1 L184.8 278.4 L185.3 278.1 L185.8 278.0 L186.3 278.7 L186.8 278.5 L187.3 278.6 L187.8 278.1 L188.3 278.7 L188.8 278.4 L189.3 278.1 L189.8 277.8 L190.3 277.7 L190.8 277.3 L191.3 276.8 L191.8 276.0 L192.3 275.7 L192.8 274.2 L193.3 272.3 L193.8 269.2 L194.3 263.4 L194.8 255.8 L195.3 244.2 L195.8 232.5 L196.3 228.9 L196.8 236.7 L197.3 249.4 L197.8 259.3 L198.3 266.2 L198.8 270.5 L199.3 273.4 L199.8 275.1 L200.3 275.9 L200.8 276.4 L201.3 277.6 L201.8 277.5 L202.3 278.4 L202.8 278.4 L203.3 278.4 L203.8 278.6 L204.3 279.0 L204.8 279.2 L205.3 279.1 L205.8 279.5 L206.3 279.8 L206.8 279.3 L207.3 279.2 L207.8 279.3 L208.3 279.2 L208.8 279.4 L209.3 279.5 L209.8 279.4 L210.3 279.8 L210.8 279.1 L211.3 279.5 L211.8 280.2 L212.3 280.0 L212.8 279.9 L213.3 280.0 L213.8 280.3 L214.3 280.0 L214.8 279.9 L215.3 279.6 L215.8 279.9 L216.3 279.8 L216.8 279.8 L217.3 279.8 L217.8 280.0 L218.3 279.9 L218.8 280.2 L219.3 279.7 L219.8 280.0 L220.3 280.5 L220.8 280.1 L221.3 280.3 L221.8 280.3 L222.3 280.4 L222.8 280.2 L223.3 279.8 L223.8 280.0 L224.3 280.0 L224.8 279.7 L225.3 280.0 L225.8 279.8 L226.3 279.7 L226.8 280.2 L227.3 280.1 L227.8 280.0 L228.3 279.9 L228.8 280.0 L229.3 280.0 L229.8 280.0 L230.3 280.1 L230.8 280.0 L231.3 280.2 L231.8 280.3 L232.3 280.2 L232.8 280.0 L233.3 280.0 L233.8 280.3 L234.3 280.1 L234.8 280.1 L235.3 279.6 L235.8 279.6 L236.3 280.2 L236.8 280.2 L237.3 280.5 L237.8 280.3 L238.3 280.2 L238.8 280.2 L239.3 279.9 L239.8 280.4 L240.3 280.1 L240.8 280.3 L241.3 280.2 L241.8 280.3 L242.3 280.4 L242.8 280.1 L243.3 280.1 L243.8 280.0 L244.3 280.1 L244.8 280.6 L245.3 280.1 L245.8 280.5 L246.3 280.4 L246.8 280.4 L247.3 280.4 L247.8 280.0 L248.3 280.3 L248.8 280.6 L249.3 280.1 L249.8 280.2 L250.3 280.1 L250.8 280.3 L251.3 280.0 L251.8 280.6 L252.3 280.1 L252.8 279.9 L253.3 280.6 L253.8 280.4 L254.3 280.3 L254.8 280.4 L255.3 280.2 L255.8 280.2 L256.3 280.4 L256.8 280.4 L257.3 280.4 L257.8 280.3 L258.3 280.1 L258.8 280.2 L259.3 280.5 L259.8 280.6 L260.3 280.2 L260.8 280.1 L261.3 280.5 L261.8 280.4 L262.3 280.4 L262.8 280.0 L263.3 280.2 L263.8 280.1 L264.3 280.3 L264.8 279.9 L265.3 280.5 L265.8 280.3 L266.3 280.4 L266.8 280.0 L267.3 280.3 L267.8 280.5 L268.3 279.9 L268.8 280.3 L269.3 280.4 L269.8 280.1 L270.3 280.4 L270.8 280.2 L271.3 280.5 L271.8 280.4 L272.3 280.3 L272.8 280.7 L273.3 280.4 L273.8 280.5 L274.3 280.0 L274.8 280.1 L275.3 280.4 L275.8 280.4 L276.3 280.2 L276.8 280.4 L277.3 280.0 L277.8 280.3 L278.3 280.0 L278.8 280.3 L279.3 280.1 L279.8 280.1 L280.3 280.2 L280.8 280.6 L281.3 280.0 L281.8 280.1 L282.3 280.4 L282.8 280.1 L283.3 280.6 L283.8 280.2 L284.3 280.2 L284.8 280.2 L285.3 280.5 L285.8 280.3 L286.3 280.2 L286.8 280.1 L287.3 279.7 L287.8 279.8 L288.3 280.3 L288.8 280.1 L289.3 280.0 L289.8 280.0 L290.3 279.7 L290.8 279.8 L291.3 279.4 L291.8 279.5 L292.3 279.1 L292.8 279.0 L293.3 278.9 L293.8 278.3 L294.3 277.9 L294.8 276.8 L295.3 275.1 L295.8 272.6 L296.3 267.9 L296.8 262.7 L297.3 259.0 L297.8 259.6 L298.3 264.5 L298.8 269.3 L299.3 273.2 L299.8 275.3 L300.3 277.1 L300.8 278.0 L301.3 278.2 L301.8 278.7 L302.3 279.1 L302.8 279.4 L303.3 278.9 L303.8 279.7 L304.3 279.8 L304.8 279.8 L305.3 279.9 L305.8 280.0 L306.3 279.8 L306.8 280.1 L307.3 280.0 L307.8 279.9 L308.3 280.2 L308.8 280.5 L309.3 279.9 L309.8 279.8 L310.3 279.8 L310.8 280.6 L311.3 280.2 L311.8 280.2 L312.3 280.1 L312.8 280.0 L313.3 279.8 L313.8 280.3 L314.3 280.3 L314.8 279.9 L315.3 280.1 L315.8 280.1 L316.3 280.3 L316.8 280.3 L317.3 280.5 L317.8 280.6 L318.3 280.5 L318.8 280.6 L319.3 280.1 L319.8 280.2 L320.3 280.6 L320.8 280.4 L321.3 280.3 L321.8 279.9 L322.3 279.9 L322.8 280.5 L323.3 280.4 L323.8 280.3 L324.3 280.2 L324.8 280.0 L325.3 280.4 L325.8 280.6 L326.3 280.7 L326.8 280.3 L327.3 280.3 L327.8 280.1 L328.3 280.6 L328.8 280.7 L329.3 280.2 L329.8 280.4 L330.3 280.4 L330.8 280.2 L331.3 279.8 L331.8 280.3 L332.3 280.5 L332.8 280.0 L333.3 280.2 L333.8 279.7 L334.3 280.6 L334.8 280.4 L335.3 280.4 L335.8 280.3 L336.3 280.2 L336.8 280.3 L337.3 280.3 L337.8 280.3 L338.3 280.3 L338.8 280.4 L339.3 280.7 L339.8 280.0 L340.3 280.4 L340.8 280.2 L341.3 280.1 L341.8 279.8 L342.3 280.5 L342.8 280.1 L343.3 280.2 L343.8 280.4 L344.3 280.1 L344.8 280.3 L345.3 280.3 L345.8 280.5 L346.3 280.5 L346.8 280.2 L347.3 280.5 L347.8 280.3 L348.3 280.4 L348.8 280.3 L349.3 280.5 L349.8 280.1 L350.3 280.4 L350.8 280.6 L351.3 280.3 L351.8 280.7 L352.3 280.2 L352.8 280.4 L353.3 280.2 L353.8 280.2 L354.3 280.1 L354.8 280.2 L355.3 280.3 L355.8 280.1 L356.3 280.5 L356.8 280.6 L357.3 280.0 L357.8 280.5 L358.3 280.3 L358.8 280.3 L359.3 280.8 L359.8 280.5 L360.3 280.3 L360.8 280.3 L361.3 279.8 L361.8 280.4 L362.3 280.1 L362.8 280.2 L363.3 280.2 L363.8 280.4 L364.3 280.6 L364.8 280.4 L365.3 280.4 L365.8 280.1 L366.3 280.2 L366.8 280.2 L367.3 279.8 L367.8 280.4 L368.3 279.8 L368.8 279.7 L369.3 280.2 L369.8 280.3 L370.3 279.6 L370.8 279.6 L371.3 280.2 L371.8 279.5 L372.3 278.9 L372.8 279.0 L373.3 279.3 L373.8 278.6 L374.3 278.2 L374.8 277.6 L375.3 276.4 L375.8 274.5 L376.3 271.4 L376.8 267.3 L377.3 260.7 L377.8 254.5 L378.3 252.8 L378.8 257.0 L379.3 263.6 L379.8 269.2 L380.3 273.2 L380.8 275.5 L381.3 276.5 L381.8 277.7 L382.3 278.6 L382.8 278.8 L383.3 278.8 L383.8 279.0 L384.3 278.9 L384.8 279.3 L385.3 279.9 L385.8 279.7 L386.3 279.6 L386.8 279.7 L387.3 279.9 L387.8 279.9 L388.3 279.9 L388.8 279.9 L389.3 280.2 L389.8 280.4 L390.3 280.0 L390.8 280.0 L391.3 280.4 L391.8 279.8 L392.3 280.0 L392.8 280.1 L393.3 280.2 L393.8 280.1 L394.3 280.0 L394.8 280.2 L395.3 279.9 L395.8 279.8 L396.3 279.7 L396.8 280.3 L397.3 279.7 L397.8 280.1 L398.3 280.1 L398.8 280.0 L399.3 279.7 L399.8 279.4 L400.3 279.4 L400.8 279.1 L401.3 279.0 L401.8 279.7 L402.3 279.4 L402.8 280.1 L403.3 280.0 L403.8 279.9 L404.3 280.2 L404.8 280.4 L405.3 279.9 L405.8 280.0 L406.3 280.0 L406.8 280.3 L407.3 280.4 L407.8 280.3 L408.3 280.1 L408.8 280.2 L409.3 280.5 L409.8 280.5 L410.3 280.3 L410.8 280.0 L411.3 280.4 L411.8 280.4 L412.3 280.4 L412.8 280.7 L413.3 280.5 L413.8 280.1 L414.3 280.1 L414.8 280.6 L415.3 280.4 L415.8 280.5 L416.3 280.3 L416.8 280.1 L417.3 280.4 L417.8 280.6 L418.3 280.4 L418.8 280.1 L419.3 280.2 L419.8 280.2 L420.3 280.3 L420.8 280.5 L421.3 280.7 L421.8 280.3 L422.3 280.2 L422.8 280.2 L423.3 280.2 L423.8 280.1 L424.3 280.2 L424.8 280.1 L425.3 279.9 L425.8 280.2 L426.3 280.0 L426.8 279.8 L427.3 280.0 L427.8 279.7 L428.3 280.1 L428.8 279.7 L429.3 279.5 L429.8 279.1 L430.3 278.9 L430.8 278.7 L431.3 277.8 L431.8 277.0 L432.3 274.7 L432.8 272.5 L433.3 268.7 L433.8 264.2 L434.3 262.0 L434.8 264.4 L435.3 268.4 L435.8 272.2 L436.3 275.2 L436.8 277.1 L437.3 278.0 L437.8 278.5 L438.3 279.0 L438.8 279.3 L439.3 279.2 L439.8 279.1 L440.3 279.6 L440.8 279.6 L441.3 279.8 L441.8 279.8 L442.3 279.9 L442.8 280.2 L443.3 280.1 L443.8 280.2 L444.3 280.5 L444.8 280.1 L445.3 280.2 L445.8 280.5 L446.3 280.0 L446.8 280.0 L447.3 280.5 L447.8 280.4 L448.3 280.4 L448.8 280.4 L449.3 280.5 L449.8 280.2 L450.3 280.3 L450.8 280.1 L451.3 280.4 L451.8 280.4 L452.3 280.3 L452.8 280.5 L453.3 280.9 L453.8 280.1 L454.3 280.5 L454.8 280.5 L455.3 280.6 L455.8 280.2 L456.3 280.6 L456.8 280.5 L457.3 280.3 L457.8 280.3 L458.3 280.4 L458.8 280.5 L459.3 280.5 L459.8 280.7 L460.3 280.2 L460.8 280.3 L461.3 280.1 L461.8 280.3 L462.3 280.1 L462.8 279.8 L463.3 279.5 L463.8 279.4 L464.3 279.3 L464.8 279.2 L465.3 278.8 L465.8 278.2 L466.3 278.4 L466.8 278.8 L467.3 279.1 L467.8 279.4 L468.3 279.8 L468.8 279.8 L469.3 279.7 L469.8 279.5 L470.3 279.9 L470.8 279.6 L471.3 279.9 L471.8 280.0 L472.3 279.6 L472.8 279.8 L473.3 279.7 L473.8 280.0 L474.3 279.6 L474.8 278.9 L475.3 279.2 L475.8 278.8 L476.3 278.2 L476.8 277.4 L477.3 276.4 L477.8 274.5 L478.3 271.8 L478.8 268.3 L479.3 265.7 L479.8 265.1 L480.3 267.5 L480.8 271.0 L481.3 273.7 L481.8 275.8 L482.3 277.6 L482.8 278.1 L483.3 278.3 L483.8 278.4 L484.3 278.8 L484.8 278.8 L485.3 278.7 L485.8 279.3 L486.3 279.0 L486.8 279.0 L487.3 279.2 L487.8 278.2 L488.3 277.4 L488.8 276.3 L489.3 274.7 L489.8 273.0 L490.3 272.2 L490.8 273.0 L491.3 274.1 L491.8 275.6 L492.3 276.9 L492.8 277.9 L493.3 278.7 L493.8 279.3 L494.3 279.5 L494.8 279.9 L495.3 279.8 L495.8 280.1 L496.3 280.0 L496.8 280.2 L497.3 279.8 L497.8 280.4 L498.3 279.9 L498.8 280.0 L499.3 280.4 L499.8 280.2 L500.3 280.6 L500.8 280.4 L501.3 280.1 L501.8 280.4 L502.3 280.3 L502.8 280.7 L503.3 280.7 L503.8 280.5 L504.3 280.3 L504.8 280.4 L505.3 280.6 L505.8 280.3 L506.3 280.3 L506.8 280.6 L507.3 280.6 L507.8 280.4 L508.3 280.4 L508.8 280.1 L509.3 280.7 L509.8 280.4 L510.3 280.2 L510.8 280.3 L511.3 280.3 L511.8 280.8 L512.3 280.6 L512.8 280.2 L513.3 280.8 L513.8 280.8 L514.3 280.3 L514.8 280.0 L515.3 280.7 L515.8 280.4 L516.3 280.5 L516.8 280.4 L517.3 280.7 L517.8 280.8 L518.3 280.7 L518.8 280.5 L519.3 280.6 L519.8 280.6 L520.3 280.2 L520.8 280.7 L521.3 280.4 L521.8 280.5 L522.3 280.5 L522.8 280.7 L523.3 280.7 L523.8 280.9 L524.3 280.5 L524.8 280.4 L525.3 280.6 L525.8 280.4 L526.3 280.7 L526.8 280.4 L527.3 280.6 L527.8 280.7 L528.3 280.7 L528.8 280.6 L529.3 280.8 L529.8 280.8 L530.3 280.2 L530.8 280.6 L531.3 280.6 L531.8 280.5 L532.3 280.4 L532.8 280.6 L533.3 280.6 L533.8 280.6 L534.3 280.8 L534.8 280.8 L535.3 280.5 L535.8 280.4 L536.3 280.7 L536.8 280.4 L537.3 280.6 L537.8 280.7 L538.3 280.8 L538.8 280.7 L539.3 280.9 L539.8 280.5 L540.3 280.7 L540.8 280.5 L541.3 280.6 L541.8 280.6 L542.3 280.4 L542.8 280.1" stroke="#ff0000" stroke-width="3.0"/>
</g>
<line x1="95.3" y1="403" x2="95.3" y2="400.6" stroke="#000" stroke-width="3.4"/><line x1="140.1" y1="403" x2="140.1" y2="396.8" stroke="#000" stroke-width="3.4"/><line x1="185.0" y1="403" x2="185.0" y2="400.6" stroke="#000" stroke-width="3.4"/><line x1="229.8" y1="403" x2="229.8" y2="396.8" stroke="#000" stroke-width="3.4"/><line x1="274.7" y1="403" x2="274.7" y2="400.6" stroke="#000" stroke-width="3.4"/><line x1="319.5" y1="403" x2="319.5" y2="396.8" stroke="#000" stroke-width="3.4"/><line x1="364.4" y1="403" x2="364.4" y2="400.6" stroke="#000" stroke-width="3.4"/><line x1="409.2" y1="403" x2="409.2" y2="396.8" stroke="#000" stroke-width="3.4"/><line x1="454.1" y1="403" x2="454.1" y2="400.6" stroke="#000" stroke-width="3.4"/><line x1="498.9" y1="403" x2="498.9" y2="396.8" stroke="#000" stroke-width="3.4"/>
<rect x="51" y="8" width="492.7" height="396.4" fill="none" stroke="#000" stroke-width="3.6"/>
<text x="50.4" y="433.5" text-anchor="middle" class="tl">20</text><text x="140.1" y="433.5" text-anchor="middle" class="tl">30</text><text x="229.8" y="433.5" text-anchor="middle" class="tl">40</text><text x="319.5" y="433.5" text-anchor="middle" class="tl">50</text><text x="409.2" y="433.5" text-anchor="middle" class="tl">60</text><text x="498.9" y="433.5" text-anchor="middle" class="tl">70</text>
<line x1="388.2" y1="28.7" x2="425.8" y2="28.7" stroke="#2f9f06" stroke-width="3"/>
<line x1="388.2" y1="53.3" x2="425.8" y2="53.3" stroke="#000" stroke-width="3"/>
<line x1="389" y1="79.7" x2="427" y2="79.7" stroke="#ff0000" stroke-width="2.7"/>
<g class="lg" fill="#000" stroke="#000">
<text x="430.2" y="34">ZnO</text>
<text x="430.5" y="59.8">CeO<tspan font-size="14" dx="1" dy="5.6">2</tspan></text>
<text x="430.3" y="85.7">ZnO<tspan dx="0.8"> - </tspan><tspan dx="0.3">CeO</tspan><tspan font-size="14" dx="0.5" dy="5.6">2</tspan></text>
</g>
<text x="356.4" y="313" class="lg" fill="#ff0000" stroke="#ff0000" textLength="168.8" lengthAdjust="spacing">PDF#43&#8722;1002 CeO</text>
<text x="525.1" y="319.3" class="lg" fill="#ff0000" stroke="#ff0000" style="font-size:14px">2</text>
<text x="356.4" y="341" class="lg" fill="#1565b4" stroke="#1565b4" textLength="168.2" lengthAdjust="spacing">PDF#99&#8722;0111 ZnO</text>
<g transform="translate(0,487) scale(1,1.035) translate(0,-487)">
<text x="210.4" y="487" class="ax" font-size="34">2</text>
<text x="229.2" y="487" class="sf" font-size="35">&#952;</text>
<text x="255.2" y="487" class="sf" font-size="35">/</text>
<text x="274.0" y="486.5" class="ax" font-size="33.5">degree</text>
</g>
<text transform="translate(30.9,318.4) rotate(-90) scale(1,1.055)" x="0" y="0" class="ax" font-size="33.7">Intensity / a.u.</text>
</svg>
</body></html>
